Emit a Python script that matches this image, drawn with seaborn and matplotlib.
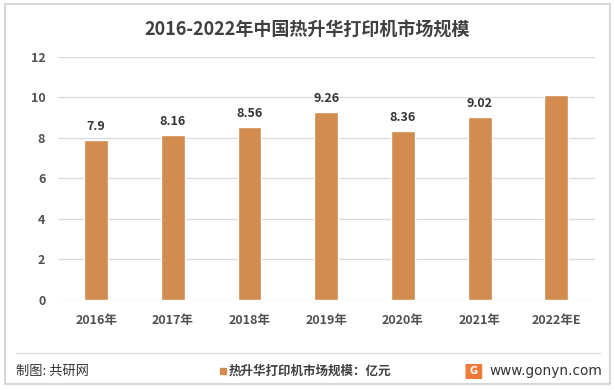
import matplotlib
matplotlib.use("Agg")
import matplotlib.pyplot as plt
import matplotlib.patches as mpatches
import seaborn as sns
import pandas as pd

# Data
years = ["2016年", "2017年", "2018年", "2019年", "2020年", "2021年", "2022年E"]
values = [7.9, 8.16, 8.56, 9.26, 8.36, 9.02, 10.1]
labels = ["7.9", "8.16", "8.56", "9.26", "8.36", "9.02", ""]
y_ticks = [0, 2, 4, 6, 8, 10, 12]

TITLE = "2016-2022年中国热升华打印机市场规模"
LEGEND = "热升华打印机市场规模：亿元"
BAR_COLOR = "#D38C4F"

sns.set_style("white")
plt.rcParams['font.family'] = ['Noto Sans CJK SC', 'DejaVu Sans']

df = pd.DataFrame({"year": years, "value": values})

fig = plt.figure(figsize=(6.15, 3.9), dpi=100)
ax = fig.add_axes([0.094, 0.231, 0.873, 0.623])

sns.barplot(data=df, x="year", y="value", color=BAR_COLOR, width=0.31,
            saturation=1, ax=ax, zorder=3)

for i, (v, lab) in enumerate(zip(values, labels)):
    if lab:
        ax.text(i, v + 0.35, lab, ha="center", va="bottom", fontsize=9,
                color="#333333", fontweight="bold")

ax.set_ylim(0, 12)
ax.set_yticks(y_ticks)
ax.set_yticklabels([str(t) for t in y_ticks], fontsize=9, color="#505050",
                   fontweight="bold")
ax.set_xticks(range(len(years)))
ax.set_xticklabels(years, fontsize=9, color="#505050", fontweight="bold")
ax.tick_params(axis="x", length=0, pad=10)
ax.tick_params(axis="y", length=0, pad=9)
ax.set_xlabel("")
ax.set_ylabel("")
ax.grid(axis="y", color="#D9D9D9", linewidth=0.9, zorder=0)
for s in ax.spines.values():
    s.set_visible(False)

fig.text(0.5, 0.923, TITLE, ha="center", va="center", fontsize=13,
         fontweight="bold", color="#404040")

# frame and footer
fig.patches.append(mpatches.Rectangle((0.008, 0.015), 0.984, 0.975, transform=fig.transFigure,
                                      fill=False, edgecolor="#D0D0D0", linewidth=1.2))
fig.add_artist(plt.Line2D([0.026, 0.976], [0.095, 0.095], color="#E0E0E0", linewidth=1))
fig.text(0.026, 0.047, "制图: 共研网", ha="left", va="center", fontsize=9.5, color="#333333")
fig.patches.append(mpatches.Rectangle((0.358, 0.041), 0.0098, 0.015, transform=fig.transFigure,
                                      color=BAR_COLOR))
fig.text(0.371, 0.048, LEGEND, ha="left", va="center", fontsize=9, color="#404040",
         fontweight="bold")
fig.patches.append(mpatches.FancyBboxPatch((0.759, 0.031), 0.023, 0.033, transform=fig.transFigure,
                                           boxstyle="round,pad=0.001", color="#F07A3A"))
fig.text(0.7705, 0.048, "G", ha="center", va="center", fontsize=7, color="white",
         fontweight="bold", family=["DejaVu Sans"])
fig.text(0.795, 0.05, "www.gonyn.com", ha="left", va="center", fontsize=9.8, color="#333333",
         family=["DejaVu Sans"])

fig.savefig("out.png", dpi=100)
